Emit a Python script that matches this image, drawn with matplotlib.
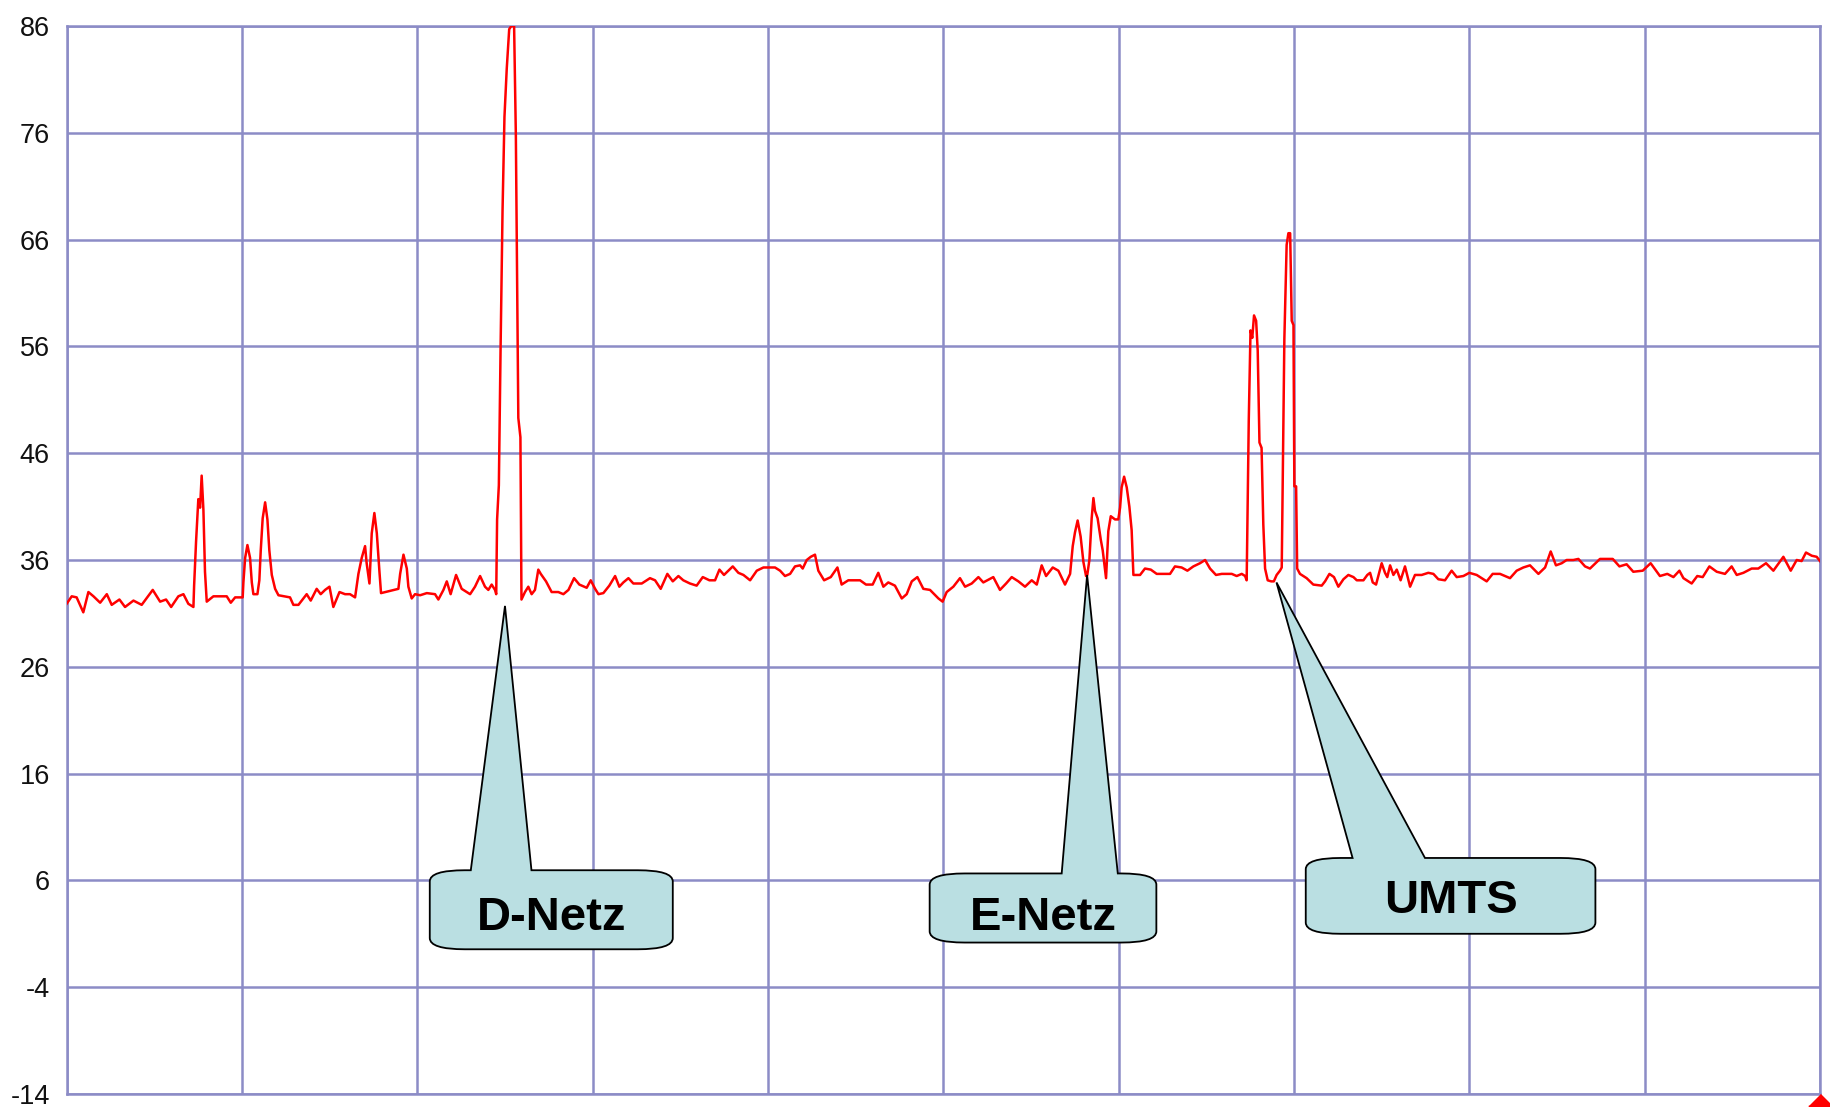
import matplotlib
matplotlib.use("Agg")
import matplotlib.pyplot as plt
from matplotlib.path import Path
from matplotlib.patches import PathPatch

plt.rcParams['font.family'] = ['Liberation Sans', 'DejaVu Sans']

# ---------------- data ----------------
freq_a = [0.00, 0.29, 0.57, 0.73, 0.95, 1.24, 1.53, 1.91, 2.29, 2.57,
          3.01, 3.33, 3.81, 4.28, 4.91, 5.33, 5.67, 5.96, 6.37, 6.66,
          6.94, 7.23, 7.27, 7.38, 7.51, 7.61, 7.70, 7.80, 7.89, 7.99,
          8.37, 9.13, 9.36, 9.61, 10.04, 10.08, 10.18, 10.31, 10.46, 10.56,
          10.65, 10.88, 10.99, 11.07, 11.18, 11.32, 11.45, 11.56, 11.70, 11.89,
          12.08, 12.74, 12.93, 13.22, 13.69, 13.92, 14.26, 14.49, 14.74, 14.99,
          15.21, 15.56, 15.88, 16.16, 16.45, 16.64, 16.83, 17.02, 17.11, 17.27,
          17.40, 17.55, 17.69, 17.84, 17.93, 18.92, 19.02, 19.21, 19.40, 19.49,
          19.68, 19.87]
level_a = [31.9, 32.6, 32.5, 31.9, 31.1, 33.0, 32.6, 32.0, 32.8, 31.8,
           32.3, 31.6, 32.2, 31.8, 33.2, 32.1, 32.3, 31.6, 32.6, 32.8,
           31.9, 31.6, 33.6, 37.7, 41.7, 40.9, 43.9, 40.7, 34.9, 32.1,
           32.6, 32.6, 32.0, 32.5, 32.5, 33.9, 36.2, 37.4, 36.2, 33.9,
           32.8, 32.8, 34.1, 36.9, 39.9, 41.4, 39.8, 36.9, 34.6, 33.3,
           32.7, 32.5, 31.8, 31.8, 32.8, 32.2, 33.3, 32.8, 33.2, 33.5,
           31.6, 33.0, 32.8, 32.8, 32.5, 34.7, 36.2, 37.3, 35.7, 33.8,
           38.5, 40.4, 38.5, 34.9, 32.9, 33.3, 34.7, 36.5, 35.2, 33.5,
           32.4, 32.8]

freq_b = [20.16, 20.54, 21.01, 21.20, 21.49, 21.68, 21.90, 22.21, 22.53, 23.01,
          23.29, 23.58, 23.86, 24.05, 24.24, 24.43, 24.50, 24.55, 24.65, 24.75,
          24.86, 24.97, 25.10, 25.24, 25.36, 25.52, 25.62, 25.76, 25.88, 25.94,
          26.14, 26.33, 26.52, 26.71, 26.90, 27.04, 27.34, 27.66, 28.04, 28.33,
          28.62, 28.94, 29.24, 29.66, 29.89, 30.14, 30.33, 30.61, 30.95, 31.28,
          31.52, 31.75, 32.04, 32.32, 32.80, 33.27, 33.56, 33.88, 34.26, 34.57,
          34.89, 35.17, 35.55, 35.93, 36.28, 36.66, 36.98, 37.23, 37.49, 37.99,
          38.31, 38.60, 38.98, 39.36, 39.74, 40.40]
level_b = [32.7, 32.9, 32.8, 32.3, 33.2, 34.0, 32.8, 34.6, 33.3, 32.8,
           33.5, 34.5, 33.5, 33.2, 33.7, 33.2, 32.8, 39.8, 43.0, 56.0,
           68.7, 77.5, 82.0, 85.7, 86.0, 86.0, 75.7, 49.3, 47.5, 32.3,
           33.0, 33.5, 32.8, 33.2, 35.1, 34.7, 34.0, 33.0, 33.0, 32.8,
           33.2, 34.3, 33.7, 33.4, 34.1, 33.3, 32.8, 32.9, 33.6, 34.5,
           33.5, 33.9, 34.3, 33.8, 33.8, 34.3, 34.1, 33.3, 34.7, 34.0,
           34.5, 34.1, 33.8, 33.6, 34.4, 34.1, 34.1, 35.1, 34.6, 35.4,
           34.8, 34.6, 34.1, 35.0, 35.3, 35.3]

freq_c = [40.69, 40.97, 41.26, 41.54, 41.83, 41.98, 42.21, 42.44, 42.68, 42.87,
          43.20, 43.58, 43.96, 44.20, 44.58, 45.25, 45.59, 45.97, 46.29, 46.58,
          46.86, 47.24, 47.63, 47.91, 48.20, 48.52, 48.86, 49.24, 49.72, 49.96,
          50.19, 50.57, 50.95, 51.24, 51.62, 52.00, 52.28, 52.85, 53.23, 53.58,
          53.90, 54.28, 54.66, 55.04, 55.33, 55.61, 55.86, 56.24, 56.56, 56.94,
          57.23, 57.38, 57.51, 57.66, 57.83, 57.99, 58.14, 58.21, 58.33, 58.46,
          58.56, 58.65, 58.80, 58.98, 59.09, 59.22, 59.28, 59.41, 59.55, 59.79,
          59.98, 60.08, 60.17, 60.31, 60.46, 60.61, 60.74, 60.84]
level_c = [35.0, 34.5, 34.7, 35.4, 35.5, 35.2, 36.0, 36.3, 36.5, 35.0,
           34.1, 34.4, 35.3, 33.7, 34.1, 34.1, 33.7, 33.7, 34.8, 33.5,
           33.9, 33.6, 32.4, 32.8, 34.0, 34.4, 33.3, 33.2, 32.4, 32.1,
           33.0, 33.5, 34.3, 33.5, 33.8, 34.4, 33.9, 34.4, 33.2, 33.8,
           34.4, 34.0, 33.5, 34.1, 33.7, 35.5, 34.5, 35.3, 35.0, 33.7,
           34.7, 37.3, 38.6, 39.7, 38.2, 35.8, 34.5, 34.6, 36.0, 39.9,
           41.8, 40.6, 39.9, 37.9, 36.9, 35.1, 34.3, 38.7, 40.1, 39.8,
           39.8, 40.9, 42.8, 43.8, 42.8, 41.0, 38.8, 34.6]

freq_d = [61.22, 61.50, 61.83, 62.17, 62.93, 63.21, 63.59, 63.92, 64.26, 64.64,
          64.93, 65.21, 65.55, 65.88, 66.45, 66.73, 67.02, 67.21, 67.30, 67.34,
          67.42, 67.52, 67.62, 67.72, 67.84, 67.93, 68.03, 68.15, 68.25, 68.35,
          68.50, 68.70, 68.85, 69.01, 69.20, 69.30, 69.35, 69.45, 69.58, 69.68,
          69.78, 69.87, 69.97, 70.02, 70.12, 70.18, 70.34, 70.72, 71.10, 71.58,
          71.77, 72.02, 72.28, 72.53, 72.82, 73.10, 73.39, 73.58, 73.96, 74.18,
          74.34, 74.49, 74.68, 74.87, 75.00, 75.19, 75.32, 75.48, 75.67, 75.86,
          76.08, 76.33, 76.62, 76.90, 77.28, 77.66, 77.95, 78.23, 78.61, 78.99,
          79.28, 79.66, 80.00, 80.42]
level_d = [34.6, 35.2, 35.1, 34.7, 34.7, 35.4, 35.3, 35.0, 35.4, 35.7,
           36.0, 35.2, 34.6, 34.7, 34.7, 34.5, 34.7, 34.5, 34.1, 39.0,
           49.1, 57.5, 56.8, 58.9, 58.4, 55.6, 47.0, 46.5, 39.3, 35.2,
           34.1, 34.0, 34.0, 34.6, 35.0, 35.3, 42.4, 56.7, 65.5, 66.6,
           66.6, 58.4, 58.0, 42.9, 42.9, 35.2, 34.7, 34.3, 33.7, 33.6,
           34.0, 34.7, 34.4, 33.5, 34.2, 34.6, 34.4, 34.1, 34.1, 34.6,
           34.8, 33.9, 33.7, 34.9, 35.7, 34.8, 34.4, 35.5, 34.6, 35.1,
           34.1, 35.4, 33.5, 34.6, 34.6, 34.8, 34.7, 34.2, 34.1, 35.0,
           34.4, 34.5, 34.8, 34.6]

freq_e = [80.99, 81.33, 81.75, 82.32, 82.70, 83.08, 83.46, 83.94, 84.32, 84.64,
          84.94, 85.27, 85.55, 85.93, 86.22, 86.60, 86.88, 87.45, 88.18, 88.56,
          88.97, 89.35, 89.89, 90.34, 90.87, 91.29, 91.64, 91.98, 92.21, 92.68,
          93.00, 93.31, 93.69, 94.11, 94.58, 94.96, 95.25, 95.63, 96.10, 96.48,
          96.92, 97.34, 97.91, 98.33, 98.67, 98.95, 99.20, 99.53, 99.81, 100.0]
level_e = [34.0, 34.7, 34.7, 34.3, 35.0, 35.3, 35.5, 34.7, 35.3, 36.8,
           35.5, 35.7, 36.0, 36.0, 36.1, 35.4, 35.2, 36.1, 36.1, 35.4,
           35.6, 34.9, 35.0, 35.7, 34.5, 34.7, 34.4, 35.0, 34.3, 33.8,
           34.5, 34.4, 35.4, 34.9, 34.7, 35.4, 34.6, 34.8, 35.2, 35.2,
           35.7, 35.0, 36.3, 35.0, 36.0, 35.9, 36.7, 36.4, 36.3, 35.9]

y_ticks = [-14, -4, 6, 16, 26, 36, 46, 56, 66, 76, 86]
x_grid = [0, 10, 20, 30, 40, 50, 60, 70, 80, 90, 100]

callout_labels = ["D-Netz", "E-Netz", "UMTS"]
callout_targets = [(25.0, 31.7), (58.2, 34.6), (69.0, 33.9)]

# ---------------- figure ----------------
freq = freq_a + freq_b + freq_c + freq_d + freq_e
level = level_a + level_b + level_c + level_d + level_e

fig = plt.figure(figsize=(18.31, 11.12), dpi=100)
ax = fig.add_axes([0.0364, 0.0162, 0.9576, 0.9604])
grid_color = '#8C8CC6'

ax.set_xlim(x_grid[0], x_grid[-1])
ax.set_ylim(y_ticks[0], y_ticks[-1])
ax.set_xticks(x_grid)
ax.set_yticks(y_ticks)
ax.set_xticklabels([])
ax.set_yticklabels([str(t) for t in y_ticks])
ax.tick_params(axis='both', length=0)
ax.tick_params(axis='y', pad=12, labelsize=19.5, labelcolor='#111111')
ax.grid(True, color=grid_color, linewidth=1.8)
for sp in ax.spines.values():
    sp.set_color(grid_color)
    sp.set_linewidth(1.8)

ax.plot(freq, level, color='#FF0000', linewidth=1.8, zorder=3)

# small red marker at the end of the x axis
ax.plot([x_grid[-1]], [y_ticks[0]], marker=[(-1, -1), (1, -1), (0, 0)],
        markersize=17, color='#FF0000', clip_on=False, zorder=5, linestyle='none')

# ---------------- callouts ----------------
box_geom = [  # x0, x1, y0, y1, base_a, base_b, text_x, text_y
    (20.71, 34.57, -0.45, 6.95, 23.05, 26.51, 27.64, 2.5),
    (49.22, 62.15, 0.18, 6.65, 56.75, 59.95, 55.69, 2.5),
    (70.67, 87.19, 1.0, 8.1, 73.34, 77.47, 78.94, 4.05),
]
rx, ry = 2.0, 1.05
for label, (tx, ty), (x0, x1, y0, y1, ba, bb, lx, ly) in zip(callout_labels, callout_targets, box_geom):
    verts = [
        (x0 + rx, y1), (ba, y1), (tx, ty), (bb, y1), (x1 - rx, y1),
        (x1, y1), (x1, y1 - ry),
        (x1, y0 + ry),
        (x1, y0), (x1 - rx, y0),
        (x0 + rx, y0),
        (x0, y0), (x0, y0 + ry),
        (x0, y1 - ry),
        (x0, y1), (x0 + rx, y1),
        (x0 + rx, y1),
    ]
    codes = [Path.MOVETO, Path.LINETO, Path.LINETO, Path.LINETO, Path.LINETO,
             Path.CURVE3, Path.CURVE3,
             Path.LINETO,
             Path.CURVE3, Path.CURVE3,
             Path.LINETO,
             Path.CURVE3, Path.CURVE3,
             Path.LINETO,
             Path.CURVE3, Path.CURVE3,
             Path.CLOSEPOLY]
    patch = PathPatch(Path(verts, codes), facecolor='#BADFE2', edgecolor='black',
                      linewidth=1.3, zorder=6, joinstyle='miter')
    ax.add_patch(patch)
    ax.text(lx, ly, label, ha='center', va='center', fontsize=34,
            fontweight='bold', color='black', zorder=7)

fig.savefig('out.png', dpi=100, facecolor='white')
